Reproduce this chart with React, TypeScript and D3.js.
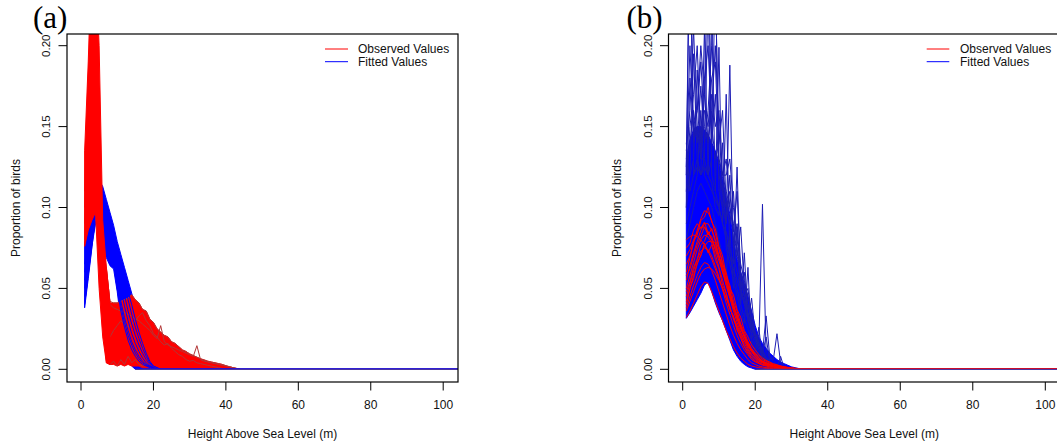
import React from "react";
import * as d3 from "d3";

type Pt = [number, number];
type BandPt = { x: number; lo: number; hi: number };

// ---------- shared axis data ----------
const xTicks = [0, 20, 40, 60, 80, 100];
const yTicks = [0, 0.05, 0.1, 0.15, 0.2];
const xTitle = "Height Above Sea Level (m)";
const yTitle = "Proportion of birds";
const legendLabels = ["Observed Values", "Fitted Values"];
const panelTags = ["(a)", "(b)"];
const flatEndX = 110; // every curve stays at 0 out to here (clipped by the box)

// ---------- panel (a) ----------
// fitted values (blue) envelope, x = 1..22
const aBlueStart = 1;
const aBlueLow = [0.038, 0.056, 0.075, 0.095, 0.086, 0.077, 0.069, 0.064, 0.062, 0.048, 0.03, 0.016, 0.007, 0.002, 0, 0, 0, 0, 0, 0, 0, 0];
const aBlueHigh = [0.078, 0.088, 0.096, 0.102, 0.117, 0.113, 0.105, 0.097, 0.089, 0.079, 0.071, 0.063, 0.055, 0.047, 0.039, 0.031, 0.024, 0.017, 0.011, 0.006, 0.002, 0];

// observed values (red), sharp peak group, x = 1..8
const aRedPeakStart = 1;
const aRedPeakLow = [0.076, 0.086, 0.092, 0.097, 0.05, 0.02, 0.004, 0.003];
const aRedPeakHigh = [0.135, 0.19, 0.26, 0.255, 0.2, 0.092, 0.063, 0.041];

// observed values (red), long tail group, x = 7..44
const aRedTailStart = 7;
const aRedTailLow = [0.004, 0.003, 0.003, 0.002, 0.003, 0.002, 0.003, 0.002, 0.002, 0.002, 0.001, 0.001, 0.001,
  0, 0, 0, 0, 0, 0, 0, 0, 0, 0, 0, 0, 0, 0, 0, 0, 0, 0, 0, 0, 0, 0, 0, 0, 0];
const aRedTailHigh = [0.063, 0.041, 0.041, 0.041, 0.042, 0.043, 0.044, 0.046, 0.043, 0.041, 0.037, 0.036, 0.031,
  0.029, 0.025, 0.023, 0.021, 0.02, 0.017, 0.016, 0.014, 0.012, 0.011, 0.0095, 0.0085, 0.0075, 0.0065, 0.0058,
  0.005, 0.0045, 0.004, 0.0035, 0.003, 0.0022, 0.0016, 0.001, 0.0005, 0];

// individual observed curves (darker edges), x from 1
const aObsEdge1 = [0.1, 0.17, 0.2, 0.18, 0.12, 0.07, 0.055, 0.04, 0.038, 0.037, 0.036, 0.035, 0.034, 0.033, 0.031, 0.03,
  0.028, 0.026, 0.024, 0.021, 0.019, 0.027, 0.017, 0.015, 0.014, 0.013, 0.012, 0.011, 0.01, 0.009, 0.008, 0.0146,
  0.006, 0.005, 0.0045, 0.004, 0.0035, 0.003, 0.0025, 0.002, 0.0015, 0.001, 0.0005, 0];
const aObsEdge2 = [0.08, 0.15, 0.22, 0.21, 0.15, 0.08, 0.062, 0.042, 0.041, 0.041, 0.042, 0.043, 0.044, 0.046, 0.043,
  0.041, 0.037, 0.036, 0.031, 0.029, 0.025, 0.023, 0.021, 0.02, 0.017, 0.016, 0.014, 0.012, 0.011, 0.0095, 0.0085,
  0.0075, 0.0065, 0.0058, 0.005, 0.0045, 0.004, 0.0035, 0.003, 0.0022, 0.0016, 0.001, 0.0005, 0];
const aObsEdge3 = [0.09, 0.16, 0.24, 0.2, 0.1, 0.03, 0.005, 0.003, 0.005, 0.002, 0.006, 0.003, 0.008, 0.004, 0.006,
  0.003, 0.002, 0.004, 0.001, 0.001, 0, 0];
const aObsEdge4 = [0.11, 0.18, 0.23, 0.22, 0.14, 0.06, 0.03, 0.02, 0.024, 0.027, 0.03, 0.028, 0.026, 0.028, 0.03,
  0.033, 0.035, 0.03, 0.027, 0.022, 0.02, 0.017, 0.015, 0.016, 0.013, 0.011, 0.009, 0.008, 0.006, 0.005, 0.0055,
  0.004, 0.0035, 0.003, 0.0025, 0.002, 0.0015, 0.001, 0.0005, 0];

// individual fitted curves, x from 1
const aFit1 = [0.04, 0.058, 0.076, 0.09, 0.094, 0.09, 0.082, 0.074, 0.066, 0.05, 0.036, 0.026, 0.018, 0.012, 0.008, 0.005, 0.003, 0.002, 0.001, 0, 0, 0];
const aFit2 = [0.045, 0.062, 0.08, 0.092, 0.098, 0.094, 0.087, 0.079, 0.07, 0.056, 0.042, 0.032, 0.024, 0.017, 0.012, 0.008, 0.005, 0.003, 0.002, 0.001, 0, 0];
const aFit3 = [0.05, 0.066, 0.083, 0.095, 0.1, 0.097, 0.09, 0.082, 0.073, 0.062, 0.05, 0.039, 0.03, 0.022, 0.016, 0.011, 0.007, 0.004, 0.002, 0.001, 0, 0];
const aFit4 = [0.055, 0.07, 0.085, 0.096, 0.103, 0.1, 0.094, 0.086, 0.077, 0.067, 0.056, 0.046, 0.036, 0.028, 0.021, 0.015, 0.01, 0.006, 0.003, 0.001, 0, 0];
const aFit5 = [0.06, 0.074, 0.088, 0.098, 0.106, 0.104, 0.097, 0.089, 0.081, 0.072, 0.062, 0.052, 0.043, 0.034, 0.026, 0.019, 0.013, 0.008, 0.004, 0.002, 0.001, 0];
const aFit6 = [0.065, 0.078, 0.09, 0.1, 0.11, 0.107, 0.1, 0.092, 0.084, 0.075, 0.066, 0.057, 0.048, 0.04, 0.031, 0.023, 0.016, 0.01, 0.005, 0.002, 0.001, 0];
const aFit7 = [0.042, 0.06, 0.078, 0.091, 0.096, 0.092, 0.085, 0.077, 0.068, 0.053, 0.039, 0.029, 0.021, 0.015, 0.01, 0.0065, 0.004, 0.0025, 0.0015, 0.0005, 0, 0];

// ---------- panel (b) ----------
// fitted values (blue) main body, x = 1..33
const bBlueStart = 1;
const bBlueLow = [0.0315, 0.035, 0.039, 0.043, 0.047, 0.052, 0.054, 0.048, 0.041, 0.035, 0.03, 0.024, 0.018, 0.012, 0.008,
  0.005, 0.003, 0.0015, 0.0008, 0, 0, 0, 0, 0, 0, 0, 0, 0, 0, 0, 0, 0, 0];
const bBlueHigh = [0.13, 0.142, 0.148, 0.15, 0.15, 0.148, 0.145, 0.14, 0.135, 0.128, 0.118, 0.106, 0.096, 0.08, 0.068,
  0.06, 0.053, 0.045, 0.036, 0.027, 0.02, 0.016, 0.013, 0.01, 0.008, 0.006, 0.0045, 0.0035, 0.0025, 0.0015, 0.001, 0.0005, 0];

// spiky fitted curves, x from 1
const bFit1 = [0.12, 0.3, 0.12, 0.13, 0.12, 0.13, 0.23, 0.12, 0.11, 0.1, 0.09, 0.08, 0.07, 0.06, 0.05, 0.04, 0.032, 0.025, 0.018, 0.012, 0.008, 0.005, 0.003, 0.002, 0.001, 0, 0, 0, 0, 0];
const bFit2 = [0.11, 0.12, 0.195, 0.13, 0.12, 0.125, 0.12, 0.13, 0.25, 0.11, 0.1, 0.09, 0.188, 0.07, 0.06, 0.05, 0.04, 0.03, 0.022, 0.015, 0.01, 0.006, 0.004, 0.002, 0.001, 0, 0, 0, 0, 0];
const bFit3 = [0.1, 0.12, 0.13, 0.185, 0.13, 0.13, 0.12, 0.22, 0.11, 0.199, 0.09, 0.085, 0.075, 0.065, 0.125, 0.05, 0.042, 0.034, 0.026, 0.019, 0.013, 0.008, 0.005, 0.003, 0.0015, 0.0005, 0, 0, 0, 0];
const bFit4 = [0.09, 0.1, 0.11, 0.12, 0.16, 0.12, 0.115, 0.11, 0.105, 0.1, 0.09, 0.17, 0.07, 0.062, 0.055, 0.048, 0.04, 0.033, 0.027, 0.021, 0.016, 0.102, 0.01, 0.007, 0.005, 0.003, 0.002, 0.001, 0, 0];
const bFit5 = [0.08, 0.09, 0.1, 0.11, 0.115, 0.11, 0.105, 0.1, 0.09, 0.08, 0.07, 0.06, 0.086, 0.05, 0.088, 0.04, 0.072, 0.03, 0.044, 0.02, 0.015, 0.01, 0.033, 0.008, 0.006, 0.022, 0.004, 0.002, 0.001, 0];
const bFit6 = [0.14, 0.11, 0.12, 0.125, 0.12, 0.21, 0.12, 0.115, 0.1, 0.095, 0.14, 0.075, 0.065, 0.055, 0.045, 0.036, 0.028, 0.063, 0.016, 0.011, 0.026, 0.005, 0.003, 0.002, 0.001, 0.0008, 0.008, 0.0005, 0, 0];
const bFit7 = [0.13, 0.26, 0.14, 0.15, 0.13, 0.17, 0.26, 0.14, 0.17, 0.12, 0.11, 0.1, 0.09, 0.11, 0.07, 0.088, 0.05, 0.04, 0.03, 0.022, 0.015, 0.01, 0.006, 0.004, 0.002, 0.001, 0, 0, 0, 0];
const bFit8 = [0.12, 0.14, 0.16, 0.14, 0.175, 0.14, 0.16, 0.2, 0.24, 0.13, 0.12, 0.11, 0.1, 0.085, 0.11, 0.06, 0.05, 0.04, 0.03, 0.023, 0.017, 0.012, 0.008, 0.005, 0.003, 0.0015, 0.001, 0, 0, 0];
const bFit9 = [0.125, 0.2, 0.145, 0.16, 0.19, 0.15, 0.14, 0.17, 0.15, 0.16, 0.12, 0.13, 0.1, 0.09, 0.07, 0.06, 0.045, 0.035, 0.027, 0.02, 0.014, 0.009, 0.006, 0.004, 0.002, 0.001, 0, 0, 0, 0];
const bFit10 = [0.135, 0.16, 0.21, 0.15, 0.14, 0.18, 0.2, 0.15, 0.13, 0.14, 0.16, 0.1, 0.11, 0.08, 0.075, 0.05, 0.06, 0.03, 0.025, 0.018, 0.012, 0.008, 0.005, 0.003, 0.002, 0.001, 0, 0, 0, 0];
const bFit11 = [0.11, 0.15, 0.17, 0.2, 0.14, 0.16, 0.15, 0.18, 0.19, 0.13, 0.12, 0.12, 0.13, 0.1, 0.08, 0.065, 0.055, 0.045, 0.035, 0.022, 0.016, 0.011, 0.007, 0.004, 0.002, 0.001, 0, 0, 0, 0];
const bFit12 = [0.1, 0.18, 0.15, 0.16, 0.2, 0.17, 0.14, 0.16, 0.2, 0.15, 0.11, 0.09, 0.12, 0.075, 0.09, 0.055, 0.045, 0.05, 0.03, 0.02, 0.014, 0.01, 0.02, 0.005, 0.003, 0.002, 0.001, 0, 0, 0];

// observed curves (red), x from 1
const bObs1 = [0.032, 0.036, 0.041, 0.046, 0.051, 0.054, 0.053, 0.048, 0.042, 0.036, 0.03, 0.024, 0.019, 0.014, 0.01, 0.007, 0.005, 0.003, 0.002, 0.0015, 0.001, 0.0008, 0.0006, 0.0005, 0.0004, 0.0003, 0.0002, 0.0001, 0];
const bObs2 = [0.038, 0.045, 0.052, 0.058, 0.063, 0.066, 0.065, 0.061, 0.055, 0.048, 0.041, 0.034, 0.027, 0.021, 0.016, 0.012, 0.009, 0.006, 0.004, 0.003, 0.002, 0.0015, 0.001, 0.001, 0.0008, 0.0006, 0.0005, 0.0003, 0.0002, 0.0001, 0];
const bObs3 = [0.045, 0.053, 0.061, 0.068, 0.073, 0.075, 0.074, 0.07, 0.064, 0.057, 0.049, 0.041, 0.034, 0.027, 0.021, 0.016, 0.012, 0.009, 0.006, 0.0045, 0.0035, 0.0025, 0.002, 0.0015, 0.0012, 0.001, 0.0008, 0.0006, 0.0004, 0.0002, 0];
const bObs4 = [0.05, 0.058, 0.066, 0.074, 0.08, 0.083, 0.082, 0.078, 0.071, 0.063, 0.055, 0.047, 0.039, 0.031, 0.025, 0.019, 0.014, 0.01, 0.007, 0.005, 0.004, 0.003, 0.0024, 0.002, 0.0016, 0.0012, 0.001, 0.0008, 0.0005, 0.0003, 0.0001, 0];
const bObs5 = [0.055, 0.064, 0.072, 0.079, 0.086, 0.09, 0.09, 0.086, 0.079, 0.07, 0.061, 0.052, 0.044, 0.036, 0.029, 0.023, 0.018, 0.013, 0.009, 0.007, 0.005, 0.004, 0.003, 0.0025, 0.002, 0.0018, 0.0015, 0.0012, 0.001, 0.0008, 0.0005, 0.0003, 0.0001, 0];
const bObs6 = [0.06, 0.069, 0.078, 0.086, 0.093, 0.098, 0.097, 0.092, 0.084, 0.075, 0.066, 0.057, 0.048, 0.04, 0.033, 0.027, 0.021, 0.016, 0.012, 0.009, 0.007, 0.005, 0.004, 0.0035, 0.003, 0.0025, 0.002, 0.0016, 0.0012, 0.001, 0.0007, 0.0004, 0.0002, 0.0001, 0];
const bObs7 = [0.07, 0.074, 0.08, 0.085, 0.088, 0.088, 0.085, 0.08, 0.074, 0.067, 0.06, 0.052, 0.045, 0.038, 0.031, 0.025, 0.02, 0.015, 0.011, 0.008, 0.006, 0.0045, 0.0035, 0.003, 0.0025, 0.002, 0.0015, 0.001, 0.0006, 0.0003, 0];
const bObs8 = [0.08, 0.082, 0.083, 0.082, 0.08, 0.077, 0.073, 0.068, 0.062, 0.056, 0.05, 0.044, 0.038, 0.032, 0.027, 0.022, 0.018, 0.014, 0.011, 0.008, 0.006, 0.005, 0.004, 0.003, 0.0025, 0.002, 0.0015, 0.001, 0.0005, 0];
const bObs9 = [0.042, 0.05, 0.058, 0.065, 0.071, 0.076, 0.079, 0.079, 0.076, 0.07, 0.063, 0.055, 0.047, 0.039, 0.032, 0.026, 0.02, 0.015, 0.011, 0.008, 0.006, 0.0045, 0.0035, 0.0028, 0.0022, 0.0018, 0.0014, 0.001, 0.0007, 0.0004, 0.0002, 0];
const bObs10 = [0.036, 0.042, 0.048, 0.054, 0.059, 0.062, 0.063, 0.062, 0.059, 0.055, 0.05, 0.044, 0.038, 0.032, 0.026, 0.021, 0.016, 0.012, 0.009, 0.007, 0.005, 0.004, 0.003, 0.0025, 0.002, 0.0015, 0.001, 0.0006, 0.0003, 0];
const bObs11 = [0.04, 0.05, 0.056, 0.066, 0.07, 0.078, 0.072, 0.077, 0.068, 0.062, 0.052, 0.047, 0.037, 0.033, 0.024, 0.02, 0.014, 0.011, 0.008, 0.006, 0.004, 0.003, 0.0025, 0.002, 0.0015, 0.001, 0.0008, 0.0005, 0.0002, 0];
const bObs12 = [0.065, 0.07, 0.079, 0.083, 0.092, 0.094, 0.1, 0.091, 0.087, 0.076, 0.07, 0.058, 0.052, 0.042, 0.036, 0.028, 0.023, 0.017, 0.013, 0.01, 0.008, 0.006, 0.005, 0.004, 0.0032, 0.0025, 0.002, 0.0015, 0.001, 0.0006, 0.0003, 0];
const bObs13 = [0.075, 0.078, 0.086, 0.09, 0.087, 0.091, 0.084, 0.082, 0.074, 0.07, 0.06, 0.055, 0.045, 0.04, 0.032, 0.027, 0.02, 0.017, 0.012, 0.01, 0.007, 0.005, 0.004, 0.003, 0.0025, 0.002, 0.0015, 0.001, 0.0005, 0];
const bObs14 = [0.048, 0.054, 0.063, 0.068, 0.077, 0.079, 0.085, 0.08, 0.078, 0.069, 0.064, 0.053, 0.049, 0.038, 0.034, 0.025, 0.021, 0.015, 0.012, 0.009, 0.007, 0.005, 0.004, 0.003, 0.0024, 0.0018, 0.0012, 0.0008, 0.0004, 0];
const bObs15 = [0.058, 0.062, 0.07, 0.077, 0.082, 0.088, 0.083, 0.087, 0.08, 0.074, 0.065, 0.06, 0.05, 0.046, 0.037, 0.032, 0.024, 0.02, 0.015, 0.012, 0.009, 0.007, 0.0055, 0.0045, 0.0035, 0.0028, 0.002, 0.0015, 0.001, 0.0005, 0];

// ---------- helpers ----------
const seq = (start: number, vals: number[]): Pt[] => vals.map((v, i) => [start + i, v] as Pt);
const extend = (p: Pt[]): Pt[] => [...p, [flatEndX, 0] as Pt];
const band = (start: number, lo: number[], hi: number[]): BandPt[] =>
  lo.map((l, i) => ({ x: start + i, lo: l, hi: hi[i] }));
const firstZero = (start: number, vals: number[]) => start + vals.findIndex((v) => v === 0);

const RED = "#ff0000";
const BLUE = "#0000ff";
const EDGE_RED = "#b23636";
const SPIKE_BLUE = "#1c1cb4";
const ZERO_LINE = "#4a35a2";

const TOP = 34;
const BOTTOM = 382;
const SANS = "'Liberation Sans', Arial, Helvetica, sans-serif";
const SERIF = "'Liberation Serif', 'Times New Roman', serif";

const layouts = [
  { left: 67, right: 458, x0px: 81, x100px: 443.2, tagX: 33, yLabX: 49.5, yTitleX: 19.5, tickX: 58.5, legL: 325, legR: 348, legT: 358 },
  { left: 668.5, right: 1060, x0px: 682.7, x100px: 1045.3, tagX: 626.5, yLabX: 651.5, yTitleX: 621, tickX: 660, legL: 926.7, legR: 949.3, legT: 960 },
];

const ys = d3.scaleLinear().domain([0, 0.2]).range([369.3, 45.7]);

type Layer =
  | { kind: "band"; data: BandPt[]; color: string }
  | { kind: "line"; data: Pt[]; color: string; width: number };

function buildLayers(panel: number): Layer[] {
  if (panel === 0) {
    const fits = [aFit1, aFit2, aFit3, aFit4, aFit5, aFit6, aFit7];
    const edges = [aObsEdge1, aObsEdge2, aObsEdge3, aObsEdge4];
    return [
      { kind: "band", data: band(aBlueStart, aBlueLow, aBlueHigh), color: BLUE },
      { kind: "band", data: band(aRedTailStart, aRedTailLow, aRedTailHigh), color: RED },
      ...edges.map((e) => ({ kind: "line" as const, data: extend(seq(1, e)), color: EDGE_RED, width: 1 })),
      ...fits.map((f) => ({ kind: "line" as const, data: extend(seq(1, f)), color: BLUE, width: 1 })),
      { kind: "band", data: band(aRedPeakStart, aRedPeakLow, aRedPeakHigh), color: RED },
      { kind: "line", data: extend([[firstZero(aBlueStart, aBlueLow), 0]]), color: ZERO_LINE, width: 1.3 },
    ];
  }
  const fits = [bFit1, bFit2, bFit3, bFit4, bFit5, bFit6, bFit7, bFit8, bFit9, bFit10, bFit11, bFit12];
  const obs = [bObs1, bObs2, bObs3, bObs4, bObs5, bObs6, bObs7, bObs8, bObs9, bObs10, bObs11, bObs12, bObs13, bObs14, bObs15];
  return [
    { kind: "band", data: band(bBlueStart, bBlueLow, bBlueHigh), color: BLUE },
    ...fits.map((f) => ({ kind: "line" as const, data: extend(seq(1, f)), color: SPIKE_BLUE, width: 1 })),
    ...obs.map((o) => ({ kind: "line" as const, data: extend(seq(1, o)), color: RED, width: 1 })),
    { kind: "line", data: extend([[firstZero(bBlueStart, bBlueLow), 0]]), color: ZERO_LINE, width: 1.3 },
  ];
}

function Panel({ index }: { index: number }) {
  const L = layouts[index];
  const xs = d3.scaleLinear().domain([0, 100]).range([L.x0px, L.x100px]);
  const line = d3.line<Pt>().x((d) => xs(d[0])).y((d) => ys(d[1]));
  const area = d3.area<BandPt>().x((d) => xs(d.x)).y0((d) => ys(d.lo)).y1((d) => ys(d.hi));
  const layers = buildLayers(index);
  const clipId = `clip-${index}`;
  const fmt = d3.format(".2f");
  const midY = (TOP + BOTTOM) / 2;
  const midX = (L.left + L.right) / 2;
  return (
    <g>
      <defs>
        <clipPath id={clipId}>
          <rect x={L.left} y={TOP} width={L.right - L.left} height={BOTTOM - TOP} />
        </clipPath>
      </defs>
      <g clipPath={`url(#${clipId})`}>
        {layers.map((ly, i) =>
          ly.kind === "band" ? (
            <path key={i} d={area(ly.data) || ""} fill={ly.color} stroke={ly.color} strokeWidth={1} strokeLinejoin="round" />
          ) : (
            <path key={i} d={line(ly.data) || ""} fill="none" stroke={ly.color} strokeWidth={ly.width} strokeLinejoin="round" />
          )
        )}
      </g>
      <rect x={L.left} y={TOP} width={L.right - L.left} height={BOTTOM - TOP} fill="none" stroke="#000" strokeWidth={1.2} />
      {xTicks.map((t) => (
        <g key={`xt${t}`}>
          <line x1={xs(t)} x2={xs(t)} y1={BOTTOM} y2={BOTTOM + 8.5} stroke="#000" strokeWidth={1} />
          <text x={xs(t)} y={409} textAnchor="middle" fontSize={12} fontFamily={SANS} fill="#111">{t}</text>
        </g>
      ))}
      {yTicks.map((t) => (
        <g key={`yt${t}`}>
          <line x1={L.tickX} x2={L.left} y1={ys(t)} y2={ys(t)} stroke="#000" strokeWidth={1} />
          <text transform={`translate(${L.yLabX},${ys(t)}) rotate(-90)`} textAnchor="middle" fontSize={11.5} fontFamily={SANS} fill="#111">
            {fmt(t)}
          </text>
        </g>
      ))}
      <text x={midX} y={437.5} textAnchor="middle" fontSize={12} fontFamily={SANS} fill="#111">{xTitle}</text>
      <text transform={`translate(${L.yTitleX},${midY}) rotate(-90)`} textAnchor="middle" fontSize={12} fontFamily={SANS} fill="#111">
        {yTitle}
      </text>
      {legendLabels.map((lab, i) => {
        const y = 49 + i * 12.7;
        return (
          <g key={lab}>
            <line x1={L.legL} x2={L.legR} y1={y} y2={y} stroke={i === 0 ? RED : BLUE} strokeWidth={1} />
            <text x={L.legT} y={y + 4.3} fontSize={12} fontFamily={SANS} fill="#111">{lab}</text>
          </g>
        );
      })}
      <text x={L.tagX} y={28} fontSize={31} fontFamily={SERIF} fill="#000">{panelTags[index]}</text>
    </g>
  );
}

export default function App() {
  return (
    <svg
      width={1057}
      height={443}
      style={{ position: "absolute", left: 0, top: 0, background: "#fff", display: "block" }}
    >
      <rect x={0} y={0} width={1057} height={443} fill="#fff" />
      <Panel index={0} />
      <Panel index={1} />
    </svg>
  );
}
